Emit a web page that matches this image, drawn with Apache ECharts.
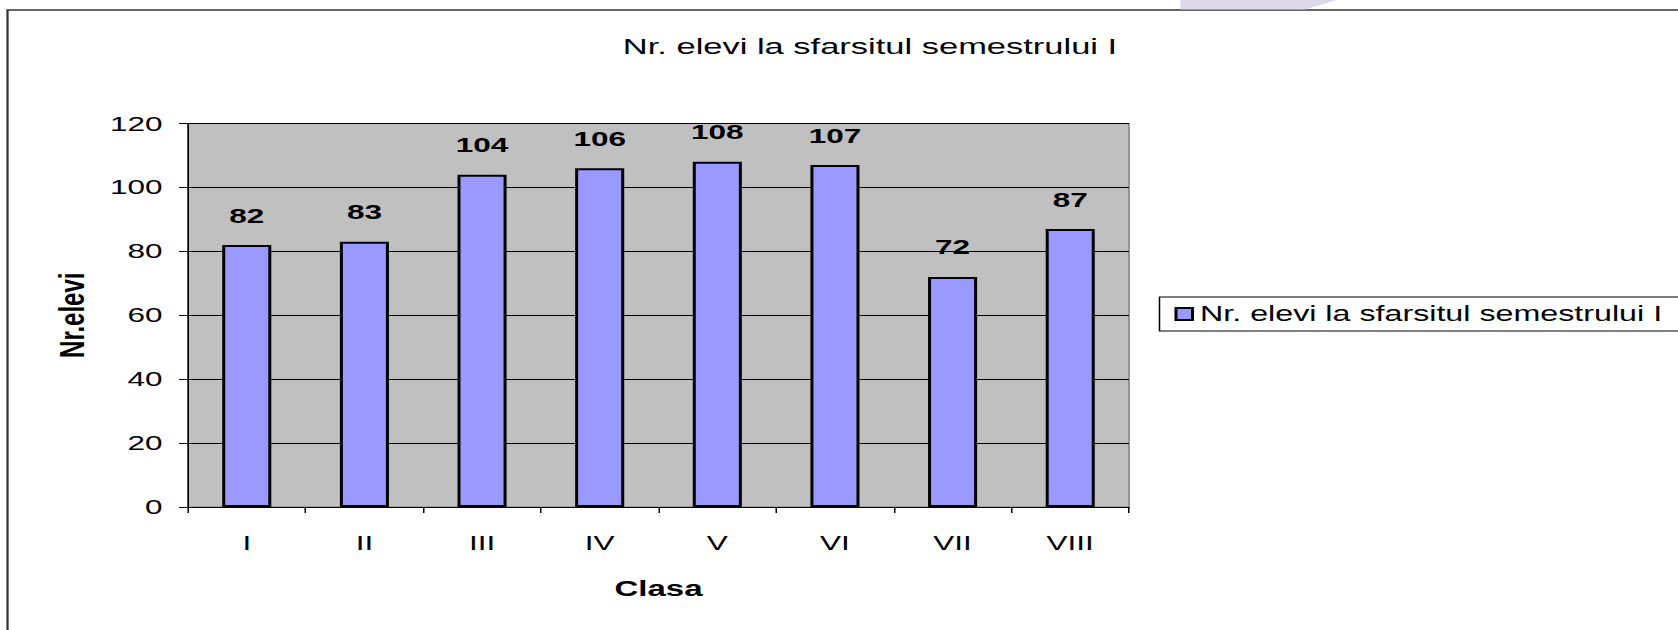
<!DOCTYPE html>
<html>
<head>
<meta charset="utf-8">
<title>Nr. elevi la sfarsitul semestrului I</title>
<script src="https://cdn.jsdelivr.net/npm/echarts@6/dist/echarts.min.js"></script>
<style>
    html, body {
        margin: 0;
        padding: 0;
        background: #fff;
        overflow: hidden;
    }
    /* the original picture is stretched sideways, so the chart is drawn narrow and widened */
    #chart {
        width: 1119px;
        height: 630px;
        transform: scaleX(1.5);
        transform-origin: 0 0;
    }
</style>
</head>
<body>
<div id="chart"></div>
<script>
var categories = ['I', 'II', 'III', 'IV', 'V', 'VI', 'VII', 'VIII'];
var elevi = [82, 83, 104, 106, 108, 107, 72, 87];
var yMin = 0;
var yMax = 120;
var yStep = 20;

var seriesName = 'Nr. elevi la sfarsitul semestrului I';
var font = 'Liberation Sans, Arial, sans-serif';

var chart = echarts.init(document.getElementById('chart'), null, { renderer: 'svg' });

chart.setOption({
    animation: false,
    textStyle: { fontFamily: font, color: '#000' },
    title: {
        text: seriesName,
        left: 575,
        top: 29,
        textAlign: 'center',
        textStyle: { fontFamily: font, fontSize: 23, fontWeight: 'normal', color: '#000' }
    },
    legend: {
        left: 773,
        top: 297,
        orient: 'vertical',
        padding: [6, 40, 6, 10],
        borderColor: '#000',
        borderWidth: 1,
        backgroundColor: '#fff',
        itemWidth: 11,
        itemHeight: 12,
        icon: 'rect',
        textStyle: { fontFamily: font, fontSize: 21.5, color: '#000' },
        data: [seriesName]
    },
    grid: {
        left: 125.3,
        top: 123.5,
        width: 627.4,
        height: 383.5,
        show: true,
        backgroundColor: '#c0c0c0',
        borderColor: '#808080',
        borderWidth: 1
    },
    xAxis: {
        type: 'category',
        data: categories,
        name: 'Clasa',
        nameLocation: 'middle',
        nameGap: 71,
        nameTextStyle: { fontFamily: font, fontSize: 22, fontWeight: 'bold', color: '#000' },
        axisLine: { lineStyle: { color: '#000', width: 1 } },
        axisTick: { show: true, length: 6, lineStyle: { color: '#000' } },
        axisLabel: { fontFamily: font, fontSize: 21, color: '#000', margin: 25 }
    },
    yAxis: {
        type: 'value',
        min: yMin,
        max: yMax,
        interval: yStep,
        name: 'Nr.elevi',
        nameLocation: 'middle',
        nameRotate: 90,
        nameGap: 66,
        nameTextStyle: { fontFamily: font, fontSize: 24, fontWeight: 'bold', color: '#000' },
        axisLine: { show: true, lineStyle: { color: '#000', width: 1 } },
        axisTick: { show: true, length: 6, lineStyle: { color: '#000' } },
        axisLabel: { fontFamily: font, fontSize: 21, color: '#000', margin: 17 },
        splitLine: { lineStyle: { color: '#000', width: 1 } }
    },
    graphic: [
        {   // outer frame of the chart area
            type: 'rect',
            shape: { x: 5, y: 10, width: 1300, height: 800 },
            style: { fill: 'none', stroke: '#333', lineWidth: 1.5 },
            silent: true,
            z: -1
        },
        {   // faint lavender shape above the frame
            type: 'polygon',
            shape: { points: [[787, 0], [891, 0], [880, 5], [870, 9.5], [787, 9.5]] },
            style: { fill: '#ddd8ea' },
            silent: true
        }
    ],
    series: [
        {
            name: seriesName,
            type: 'bar',
            data: elevi,
            barWidth: '41.7%',
            itemStyle: {
                color: '#9999ff',
                borderColor: '#000',
                borderWidth: 2
            },
            label: {
                show: true,
                position: 'top',
                distance: 19,
                fontFamily: font,
                fontSize: 21,
                fontWeight: 'bold',
                color: '#000'
            }
        }
    ]
});
</script>
</body>
</html>
